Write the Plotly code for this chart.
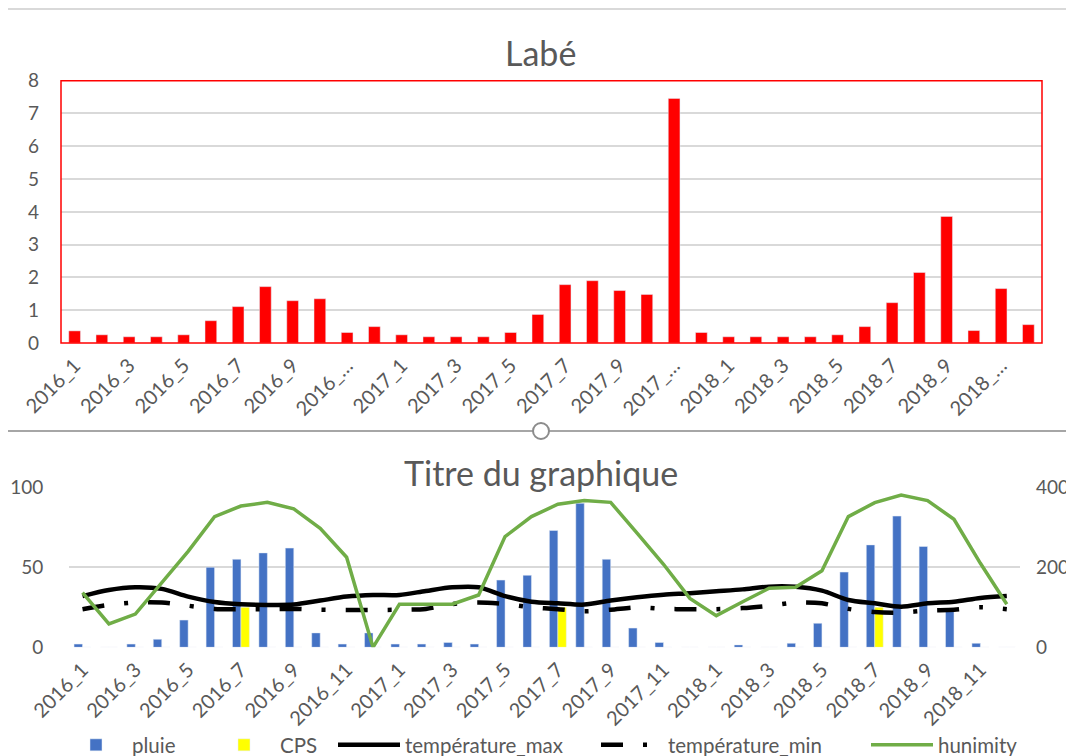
import plotly.graph_objects as go

# ---------------- data ----------------
months = ["2016_1", "2016_2", "2016_3", "2016_4", "2016_5", "2016_6", "2016_7", "2016_8", "2016_9", "2016_10", "2016_11", "2016_12",
          "2017_1", "2017_2", "2017_3", "2017_4", "2017_5", "2017_6", "2017_7", "2017_8", "2017_9", "2017_10", "2017_11", "2017_12",
          "2018_1", "2018_2", "2018_3", "2018_4", "2018_5", "2018_6", "2018_7", "2018_8", "2018_9", "2018_10", "2018_11", "2018_12"]

labe = [0.37, 0.25, 0.19, 0.19, 0.25, 0.68, 1.11, 1.72, 1.29, 1.35, 0.32, 0.50,
        0.25, 0.19, 0.19, 0.19, 0.32, 0.87, 1.78, 1.90, 1.60, 1.48, 7.46, 0.32,
        0.19, 0.19, 0.19, 0.19, 0.25, 0.50, 1.23, 2.15, 3.86, 0.38, 1.66, 0.56]

pluie = [8, 0, 8, 20, 68, 200, 220, 236, 248, 36, 8, 36,
         8, 8, 12, 8, 168, 180, 292, 360, 220, 48, 12, 0,
         0, 6, 0, 10, 60, 188, 256, 328, 252, 92, 10, 0]

cps = [0, 0, 0, 0, 0, 0, 100, 0, 0, 0, 0, 0,
       0, 0, 0, 0, 0, 0, 100, 0, 0, 0, 0, 0,
       0, 0, 0, 0, 0, 0, 100, 0, 0, 0, 0, 0]

temp_max = [32, 35.8, 37.5, 36.5, 31.7, 28.3, 26.9, 26.5, 26.7, 29.2, 31.7, 32.7,
            32.7, 35.2, 37.5, 37.5, 32, 28.5, 27.5, 26.7, 29.2, 31.3, 32.9, 33.8,
            35, 36.2, 37.9, 37.8, 35.4, 29.6, 27.5, 25.4, 27.5, 28.5, 30.8, 32]

temp_min = [23.8, 26.5, 28, 28, 26, 24, 23.8, 23.8, 24, 23.5, 23.3, 23.3,
            23.5, 24, 27, 28, 27, 25, 23.8, 22.5, 23.5, 25, 24, 23.8,
            23.8, 24.5, 26, 28, 27.5, 24, 22, 21.7, 23, 23.5, 25, 23.8]

humidity = [34.2, 14.6, 20.8, 40, 60, 81.7, 88.3, 90.6, 86.5, 74.4, 56.3, 0,
            26.9, 26.9, 26.9, 32.7, 69.2, 81.7, 89.4, 91.7, 90.6, 71.3, 51.9, 30.6,
            19.8, 28.5, 36.9, 37.5, 47.9, 81.7, 90.4, 95.2, 91.7, 80, 52.5, 26.9]

top_tickvals = months[::2]
top_ticktext = ["2016_1", "2016_3", "2016_5", "2016_7", "2016_9", "2016_…",
                "2017_1", "2017_3", "2017_5", "2017_7", "2017_9", "2017_…",
                "2018_1", "2018_3", "2018_5", "2018_7", "2018_9", "2018_…"]
bottom_tickvals = months[::2]

FONT = "Lato, 'Open Sans', sans-serif"
GREY = "#595959"
GRID = "#D9D9D9"
# the page body has an 8px margin, so the figure is sized to the visible area
OFF = 8
W, H = 1074 - OFF, 756 - OFF


def px_x(v):
    return (v - OFF) / W


def px_y(v):
    return 1 - (v - OFF) / H


fig = go.Figure()

# top chart
fig.add_trace(go.Bar(x=months, y=labe, marker_color="#FF0000", width=0.43,
                     xaxis="x", yaxis="y", showlegend=False, name="Labé"))

# bottom chart bars
fig.add_trace(go.Bar(x=months, y=pluie, name="pluie", marker_color="#4472C4",
                     width=0.32, offset=-0.32, xaxis="x2", yaxis="y2", legend="legend"))
fig.add_trace(go.Bar(x=months, y=cps, name="CPS", marker_color="#FFFF00",
                     width=0.32, offset=0.0, xaxis="x2", yaxis="y2", legend="legend2"))

# bottom chart lines
fig.add_trace(go.Scatter(x=months, y=temp_max, name="température_max", mode="lines",
                         line=dict(color="#000000", width=4.5, shape="spline", smoothing=0.8),
                         xaxis="x2", yaxis="y3", legend="legend3"))
fig.add_trace(go.Scatter(x=months, y=temp_min, name="température_min", mode="lines",
                         line=dict(color="#000000", width=4.5, shape="spline", smoothing=0.8,
                                   dash="22px,20px,4px,20px"),
                         xaxis="x2", yaxis="y3", legend="legend4"))
fig.add_trace(go.Scatter(x=months, y=humidity, name="hunimity", mode="lines",
                         line=dict(color="#70AD47", width=3.5),
                         xaxis="x2", yaxis="y3", legend="legend5"))

tickfont = dict(family=FONT, size=19, color=GREY)
xtickfont = dict(family=FONT, size=20, color=GREY)


def legend_at(xpx):
    return dict(orientation="h", x=px_x(xpx), xanchor="left", y=px_y(745),
                yanchor="middle", font=dict(family=FONT, size=20.5, color=GREY),
                itemwidth=62, bgcolor="rgba(0,0,0,0)")


fig.update_layout(
    width=W, height=H,
    margin=dict(l=0, r=0, t=0, b=0, autoexpand=False),
    paper_bgcolor="white", plot_bgcolor="white",
    barmode="overlay",
    font=dict(family=FONT, color=GREY),
    xaxis=dict(domain=[px_x(61), px_x(1042)], anchor="y", type="category",
               tickmode="array", tickvals=top_tickvals, ticktext=top_ticktext,
               tickangle=-45, tickfont=xtickfont, showgrid=False, showline=False,
               ticks="", ticklabelstandoff=6, range=[-0.5, 35.5], automargin=False),
    yaxis=dict(domain=[px_y(343), px_y(80.7)], anchor="x", range=[0, 8], dtick=1,
               showgrid=True, gridcolor=GRID, gridwidth=1.5, zeroline=False,
               tickfont=tickfont, ticks="", ticklabelstandoff=21, automargin=False),
    xaxis2=dict(domain=[px_x(69.3), px_x(1020)], anchor="y2", type="category",
                tickmode="array", tickvals=bottom_tickvals, ticktext=bottom_tickvals,
                tickangle=-45, tickfont=xtickfont, showgrid=False, showline=False,
                ticks="", ticklabelstandoff=6, range=[-0.5, 35.5], automargin=False),
    yaxis2=dict(domain=[px_y(647.3), px_y(487.3)], anchor="x2", side="right",
                range=[0, 400], tickvals=[0, 200, 400], showgrid=True,
                gridcolor=GRID, gridwidth=1.5, zeroline=False, tickfont=tickfont,
                ticks="", ticklabelstandoff=15, automargin=False),
    yaxis3=dict(overlaying="y2", anchor="x2", side="left", range=[0, 100],
                tickvals=[0, 50, 100], showgrid=False, zeroline=False,
                tickfont=tickfont, ticks="", ticklabelstandoff=25, automargin=False),
    legend=legend_at(60),
    legend2=legend_at(208),
    legend3=legend_at(333),
    legend4=legend_at(596),
    legend5=legend_at(866),
    annotations=[
        dict(text="Labé", x=px_x(540), y=px_y(52), xref="paper", yref="paper",
             xanchor="center", yanchor="middle",
             showarrow=False, font=dict(family=FONT, size=34, color=GREY)),
        dict(text="Titre du graphique", x=px_x(541), y=px_y(472), xref="paper",
             yref="paper", xanchor="center", yanchor="middle",
             showarrow=False, font=dict(family=FONT, size=34, color=GREY)),
    ],
    shapes=[
        dict(type="rect", xref="paper", yref="paper", x0=px_x(61), x1=px_x(1042),
             y0=px_y(343), y1=px_y(80.7), line=dict(color="#FF0000", width=1.5),
             layer="above"),
        dict(type="line", xref="paper", yref="paper", x0=0, x1=1, y0=px_y(9), y1=px_y(9),
             line=dict(color="#D9D9D9", width=2)),
        dict(type="line", xref="paper", yref="paper", x0=0, x1=1, y0=px_y(431),
             y1=px_y(431), line=dict(color="#A6A6A6", width=2)),
        dict(type="circle", xref="paper", yref="paper", x0=px_x(533), x1=px_x(549),
             y0=px_y(439), y1=px_y(423), line=dict(color="#8C8C8C", width=2),
             fillcolor="white", layer="above"),
    ],
)

fig.write_html("out.html")
